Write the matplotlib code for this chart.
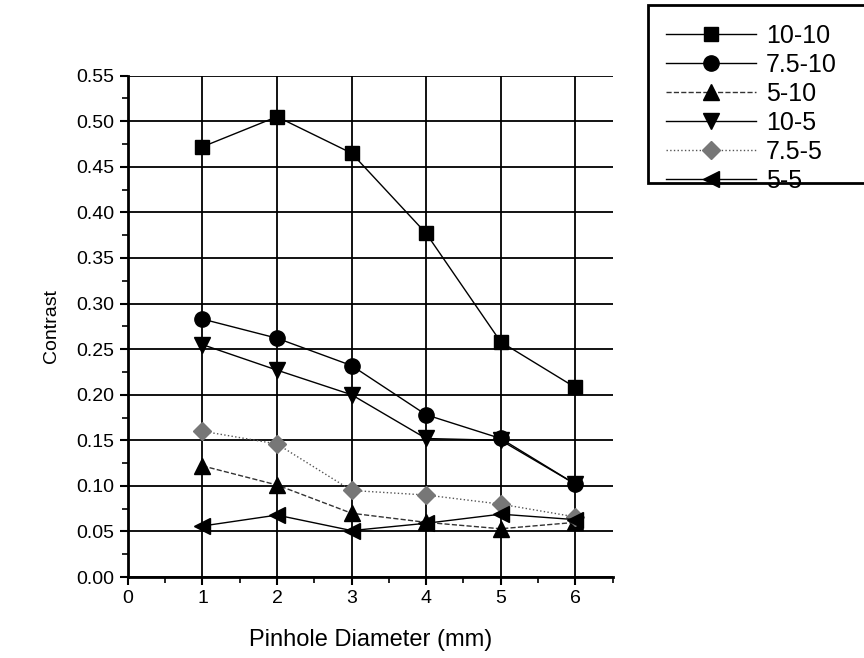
import numpy as np
import matplotlib.pyplot as plt
from matplotlib.ticker import MultipleLocator
from matplotlib.patches import Rectangle

plt.rcParams['font.family'] = ['Liberation Sans', 'DejaVu Sans']

diameter = [1, 2, 3, 4, 5, 6]
labels = ["10-10", "7.5-10", "5-10", "10-5", "7.5-5", "5-5"]
c_10_10 = [0.472, 0.505, 0.465, 0.377, 0.258, 0.208]
c_75_10 = [0.283, 0.262, 0.232, 0.178, 0.152, 0.102]
c_5_10 = [0.122, 0.101, 0.070, 0.060, 0.053, 0.060]
c_10_5 = [0.255, 0.227, 0.200, 0.152, 0.150, 0.102]
c_75_5 = [0.160, 0.146, 0.095, 0.090, 0.080, 0.066]
c_5_5 = [0.056, 0.068, 0.051, 0.059, 0.069, 0.063]

series = [c_10_10, c_75_10, c_5_10, c_10_5, c_75_5, c_5_5]
markers = ['s', 'o', '^', 'v', 'D', '<']
msizes = [10, 11, 11, 12, 9, 12]
mcolors = ['black', 'black', 'black', 'black', '#777777', 'black']
lstyles = ['-', '-', '--', '-', ':', '-']
lcolors = ['black', 'black', '#333333', 'black', '#555555', 'black']

fig = plt.figure(figsize=(8.64, 6.58), dpi=100)
ax = fig.add_axes([0.148, 0.123, 0.561, 0.762])

handles = []
for y, m, ms, mc, ls, lc, lab in zip(series, markers, msizes, mcolors, lstyles, lcolors, labels):
    h, = ax.plot(diameter, y, linestyle=ls, color=lc, linewidth=1.0,
                 marker=m, markersize=ms, markerfacecolor=mc, markeredgecolor=mc,
                 label=lab, zorder=3)
    handles.append(h)

ax.set_xlim(0, 6.5)
ax.set_ylim(0, 0.55)
ax.xaxis.set_major_locator(MultipleLocator(1))
ax.xaxis.set_minor_locator(MultipleLocator(0.5))
ax.yaxis.set_major_locator(MultipleLocator(0.05))
ax.yaxis.set_minor_locator(MultipleLocator(0.025))
ax.set_xticks([0, 1, 2, 3, 4, 5, 6])
ax.yaxis.set_major_formatter(plt.FuncFormatter(lambda v, p: f"{v:.2f}"))

ax.grid(True, which='major', color='black', linewidth=1.3, zorder=1)
ax.set_axisbelow(True)
for s in ['top', 'right']:
    ax.spines[s].set_visible(False)
for s in ['left', 'bottom']:
    ax.spines[s].set_linewidth(2)
ax.tick_params(which='major', direction='out', length=6, width=1.5, labelsize=14)
ax.tick_params(which='minor', direction='out', length=4, width=1.2)

ax.set_xlabel("Pinhole Diameter (mm)", fontsize=17, labelpad=16)
ax.set_ylabel("Contrast", fontsize=14, labelpad=12)

# legend box runs off the right edge, as in the original
fig.patches.append(Rectangle((648 / 864, 1 - 183 / 658), 230 / 864, 178 / 658,
                             transform=fig.transFigure, facecolor='white',
                             edgecolor='black', linewidth=2, zorder=4))
leg = fig.legend(handles, labels, loc='upper left', bbox_to_anchor=(0.765, 0.971),
                 fontsize=18, frameon=False, borderpad=0.2,
                 handlelength=3.6, labelspacing=0.2, handletextpad=0.4,
                 borderaxespad=0)
leg.set_zorder(6)

fig.savefig("out.png", dpi=100)
